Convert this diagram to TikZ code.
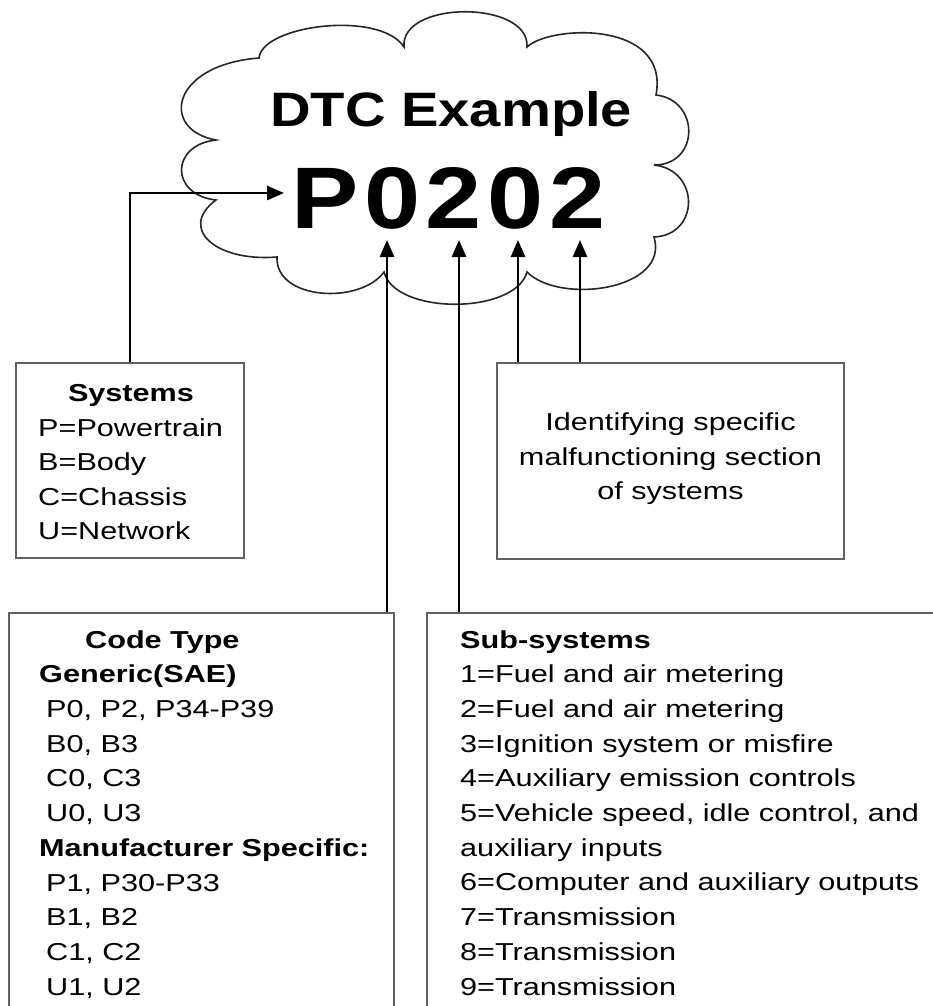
\documentclass[tikz,border=0pt]{standalone}
\usepackage{fontspec}
\setmainfont{Liberation Sans}[FakeStretch=1.25]
\usetikzlibrary{arrows.meta}
\begin{document}
\begin{tikzpicture}[x=1pt,y=-1pt,
  box/.style={draw=black!62,line width=1.4pt,fill=white,inner sep=0pt},
  txt/.style={inner sep=0pt,font=\fontsize{24.5}{30}\selectfont},
  arr/.style={line width=2.6pt,-{Triangle[length=17pt,width=14pt]}},
  cloudline/.style={draw=black!85,line width=1.6pt,fill=white}]
\useasboundingbox (0,0) rectangle (933,1006);
\fill[white] (0,0) rectangle (933,1006);

% cloud
\draw[cloudline] (259,58) .. controls (262,25) and (380,10) .. (404,47)
  .. controls (400,0) and (530,0) .. (527,47)
  .. controls (550,25) and (670,20) .. (656,95)
  .. controls (700,100) and (700,165) .. (654,165)
  .. controls (700,170) and (700,235) .. (654,237)
  .. controls (670,290) and (560,305) .. (527,272)
  .. controls (515,315) and (395,315) .. (384,272)
  .. controls (360,305) and (275,300) .. (277,257)
  .. controls (215,262) and (178,228) .. (216,200)
  .. controls (170,195) and (170,145) .. (216,140)
  .. controls (160,130) and (170,65) .. (259,58) -- cycle;

\node[inner sep=0pt,anchor=base west] (title) at (270,126.7)
  {\resizebox{362pt}{35pt}{\bfseries DTC Example}};
\node[inner sep=0pt,anchor=base west] (code) at (291,228)
  {\resizebox{314pt}{61pt}{\bfseries P\kern.07em0\kern.07em2\kern.07em0\kern.07em2}};

% boxes
\node[box,minimum width=228pt,minimum height=195pt] (sys) at (130,460.5) {};
\node[box,minimum width=347pt,minimum height=196pt] (ident) at (670.5,461) {};
\node[box,minimum width=385pt,minimum height=417pt] (ctype) at (201.5,821.4) {};
\node[box,minimum width=533pt,minimum height=417pt] (subs) at (693.5,821.4) {};

% systems text
\node[txt,anchor=base] (sysH) at (131,401.7) {\bfseries Systems};
\foreach \t [count=\i] in {P=Powertrain,B=Body,C=Chassis,U=Network}
  \node[txt,anchor=base west] (sys\i) at (38,401.7+34.5*\i) {\t};

% identifying text
\node[txt,anchor=base] (id1) at (670.5,430.7) {Identifying specific};
\node[txt,anchor=base] (id2) at (670.5,465.2) {malfunctioning section};
\node[txt,anchor=base] (id3) at (670.5,499.7) {of systems};

% code type text
\node[txt,anchor=base west] (ctH) at (85,648) {\bfseries Code Type};
\node[txt,anchor=base west] (ctG) at (39,682.7) {\bfseries Generic(SAE)};
\foreach \t [count=\i] in {{P0, P2, P34-P39},{B0, B3},{C0, C3},{U0, U3}}
  \node[txt,anchor=base west] (ctg\i) at (46,682.7+34.7*\i) {\t};
\node[txt,anchor=base west] (ctM) at (39,856.3) {\bfseries Manufacturer Specific:};
\foreach \t [count=\i] in {{P1, P30-P33},{B1, B2},{C1, C2},{U1, U2}}
  \node[txt,anchor=base west] (ctm\i) at (46,856.3+34.7*\i) {\t};

% sub-systems text
\node[txt,anchor=base west] (ssH) at (460,648) {\bfseries Sub-systems};
\foreach \t [count=\i] in {1=Fuel and air metering,2=Fuel and air metering,
  3=Ignition system or misfire,4=Auxiliary emission controls,
  {5=Vehicle speed, idle control, and},auxiliary inputs,
  6=Computer and auxiliary outputs,7=Transmission,8=Transmission,9=Transmission}
  \node[txt,anchor=base west] (ss\i) at (460,648+34.7*\i) {\t};

% connectors
\coordinate (tipP) at (284,193);
\coordinate (t1) at (387,240);
\coordinate (t2) at (459,240);
\coordinate (t3) at (518,240);
\coordinate (t4) at (580,240);
\draw[arr] (sys.north) |- (tipP);
\draw[arr] (t1 |- ctype.north) -- (t1);
\draw[arr] (t2 |- subs.north) -- (t2);
\draw[arr] (t3 |- ident.north) -- (t3);
\draw[arr] (t4 |- ident.north) -- (t4);
\end{tikzpicture}
\end{document}
